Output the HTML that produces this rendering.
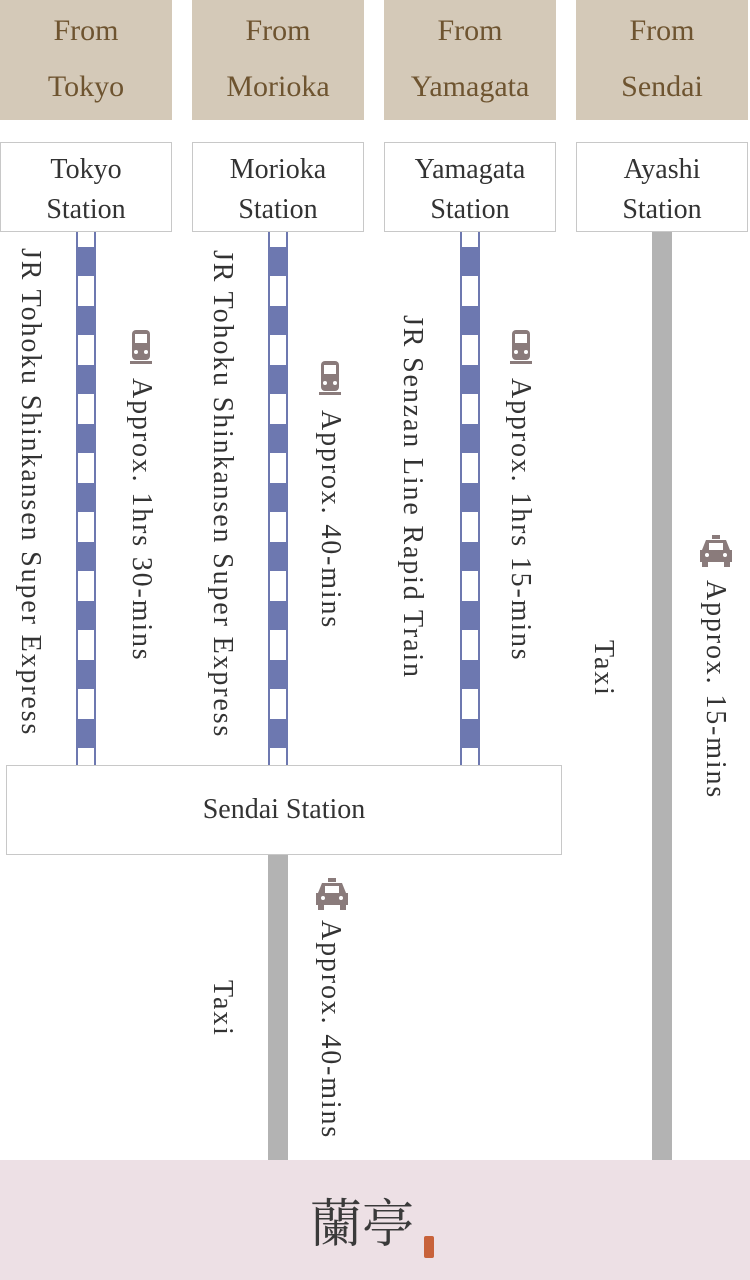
<!DOCTYPE html>
<html><head><meta charset="utf-8"><style>
body{margin:0;width:750px;height:1280px;position:relative;background:#fff;overflow:hidden;font-family:"Liberation Serif","Noto Serif CJK SC",serif;color:#333}
.h{position:absolute;top:0;width:172px;height:120px;background:#d4c9b8;color:#6e5430;font-size:30px;line-height:56px;text-align:center;padding-top:3px;box-sizing:border-box}
.s{position:absolute;top:142px;width:172px;height:90px;border:1px solid #c8c8c8;box-sizing:border-box;text-align:center;font-size:28px;line-height:40px;padding-top:7px}
.rail{position:absolute;top:232px;width:20px;height:533px;box-sizing:border-box;border-left:2px solid #6d78b0;border-right:2px solid #6d78b0;background:repeating-linear-gradient(to bottom,#fff 0 15px,#6d78b0 15px 44px,#fff 44px 59px)}
.g{position:absolute;width:20px;background:#b3b3b3}
.v{position:absolute;writing-mode:vertical-rl;font-size:28px;white-space:nowrap;line-height:30px;letter-spacing:1.85px}
.ic{position:absolute}
</style></head><body>
<div class="h" style="left:0">From<br>Tokyo</div>
<div class="h" style="left:192px">From<br>Morioka</div>
<div class="h" style="left:384px">From<br>Yamagata</div>
<div class="h" style="left:576px">From<br>Sendai</div>
<div class="s" style="left:0">Tokyo<br>Station</div>
<div class="s" style="left:192px">Morioka<br>Station</div>
<div class="s" style="left:384px">Yamagata<br>Station</div>
<div class="s" style="left:576px">Ayashi<br>Station</div>
<div class="rail" style="left:76px"></div>
<div class="rail" style="left:268px"></div>
<div class="rail" style="left:460px"></div>
<div class="g" style="left:652px;top:232px;height:928px"></div>
<div class="g" style="left:268px;top:855px;height:305px"></div>
<div style="position:absolute;left:6px;top:765px;width:556px;height:90px;border:1px solid #c8c8c8;box-sizing:border-box;background:#fff;text-align:center;font-size:28px;line-height:88px">Sendai Station</div>
<div style="position:absolute;left:0;top:1160px;width:750px;height:120px;background:#ede0e5"></div>
<div style="position:absolute;left:310px;top:1180px;font-size:52px;color:#3a3a3a;font-family:'Noto Serif CJK SC',serif;line-height:80px">蘭亭</div>
<div style="position:absolute;left:424px;top:1236px;width:10px;height:22px;background:#c8623a;border-radius:2px"></div>

<div class="v" style="left:15px;top:248px">JR Tohoku Shinkansen Super Express</div>
<div class="v" style="left:207px;top:250px">JR Tohoku Shinkansen Super Express</div>
<div class="v" style="left:397px;top:315px">JR Senzan Line Rapid Train</div>
<div class="v" style="left:126px;top:378px">Approx. 1hrs 30-mins</div>
<div class="v" style="left:315px;top:410px">Approx. 40-mins</div>
<div class="v" style="left:505px;top:378px">Approx. 1hrs 15-mins</div>
<div class="v" style="left:588px;top:640px">Taxi</div>
<div class="v" style="left:700px;top:580px">Approx. 15-mins</div>
<div class="v" style="left:207px;top:980px">Taxi</div>
<div class="v" style="left:315px;top:920px">Approx. 40-mins</div>

<svg width="0" height="0" style="position:absolute"><defs>
<g id="tr" fill="#8a7b7b"><rect x="4" y="0" width="18" height="30" rx="4"/><rect x="7" y="4" width="12" height="9" fill="#fff"/><circle cx="8" cy="22" r="2" fill="#fff"/><circle cx="18" cy="22" r="2" fill="#fff"/><rect x="2" y="31" width="22" height="3"/></g>
<g id="tx" fill="#8a7b7b"><rect x="12" y="0" width="8" height="4"/><path d="M6 5h20l4 10h2v12h-32v-12h2z"/><rect x="9" y="8" width="14" height="7" fill="#fff"/><circle cx="7" cy="20" r="2" fill="#fff"/><circle cx="25" cy="20" r="2" fill="#fff"/><rect x="2" y="27" width="6" height="5"/><rect x="24" y="27" width="6" height="5"/></g>
</defs></svg>
<svg class="ic" style="left:128px;top:330px" width="28" height="36"><use href="#tr"/></svg>
<svg class="ic" style="left:317px;top:361px" width="28" height="36"><use href="#tr"/></svg>
<svg class="ic" style="left:508px;top:330px" width="28" height="36"><use href="#tr"/></svg>
<svg class="ic" style="left:700px;top:535px" width="32" height="34"><use href="#tx"/></svg>
<svg class="ic" style="left:316px;top:878px" width="32" height="34"><use href="#tx"/></svg>
</body></html>
